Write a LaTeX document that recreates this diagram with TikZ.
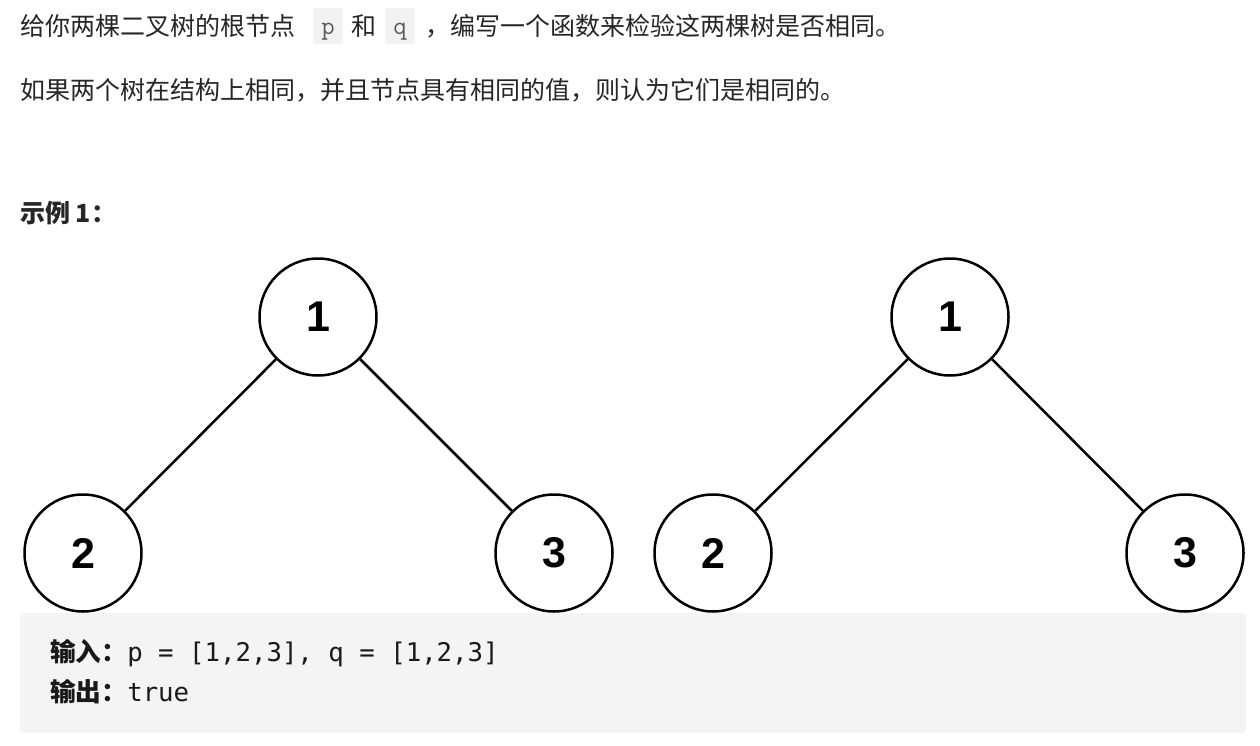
\documentclass[tikz,border=0pt]{standalone}
\usepackage{fontspec}
\setmainfont{Liberation Sans}
\newfontfamily\cjk{Noto Sans CJK SC}
\newfontfamily\digitfont{Liberation Sans}
\newfontfamily\codefont{DejaVu Sans Mono}
\definecolor{txt}{HTML}{262626}
\definecolor{boxgray}{HTML}{F4F4F4}
\definecolor{codegray}{HTML}{F2F2F2}
\definecolor{codetxt}{HTML}{595959}
\tikzset{
  x=1pt, y=-1pt,
  para/.style={anchor=west, inner sep=0pt, text=txt, font=\cjk\fontsize{25}{30}\selectfont},
  inl/.style={anchor=base, fill=codegray, rounded corners=3pt, minimum width=30pt, text height=27pt, text depth=9pt, inner sep=0pt, text=codetxt, font=\ttfamily\fontsize{26}{30}\selectfont},
  tnode/.style={circle, draw=black, line width=2.5pt, minimum size=117pt, inner sep=0pt, fill=white, font=\digitfont\bfseries\fontsize{43}{50}\selectfont},
  tedge/.style={draw=black, line width=2.5pt},
  codeline/.style={anchor=west, inner sep=0pt, text=black!90, font=\codefont\fontsize{25.7}{30}\selectfont},
}
\begin{document}
\begin{tikzpicture}
\useasboundingbox (0,0) rectangle (1260,746);
% text
\node[para] (t1a) at (20,26) {给你两棵二叉树的根节点};
\node[inl] (cp) at (328,35) {p};
\node[para, anchor=center] (t1b) at (364,26) {和};
\node[inl] (cq) at (400,35) {q};
\node[para] (t1c) at (425,26) {，编写一个函数来检验这两棵树是否相同。};
\node[para] (t2) at (20,90) {如果两个树在结构上相同，并且节点具有相同的值，则认为它们是相同的。};
\node[para, font=\cjk\bfseries\fontsize{25}{30}\selectfont] (ex) at (20,213) {示例 1：};
% left tree
\node[tnode] (a1) at (318,317) {1};
\node[tnode] (a2) at (83,553) {2};
\node[tnode] (a3) at (554,553) {3};
\draw[tedge] (a1) -- (a2);
\draw[tedge] (a1) -- (a3);
% right tree
\node[tnode] (b1) at (950,317) {1};
\node[tnode] (b2) at (713,553) {2};
\node[tnode] (b3) at (1185,553) {3};
\draw[tedge] (b1) -- (b2);
\draw[tedge] (b1) -- (b3);
% example box
\fill[boxgray, rounded corners=4pt] (20,613) rectangle (1246,733);
\node[codeline] (in) at (50,653) {{\cjk\bfseries 输入：}p = [1,2,3], q = [1,2,3]};
\node[codeline] (out) at (50,692) {{\cjk\bfseries 输出：}true};
\end{tikzpicture}
\end{document}
